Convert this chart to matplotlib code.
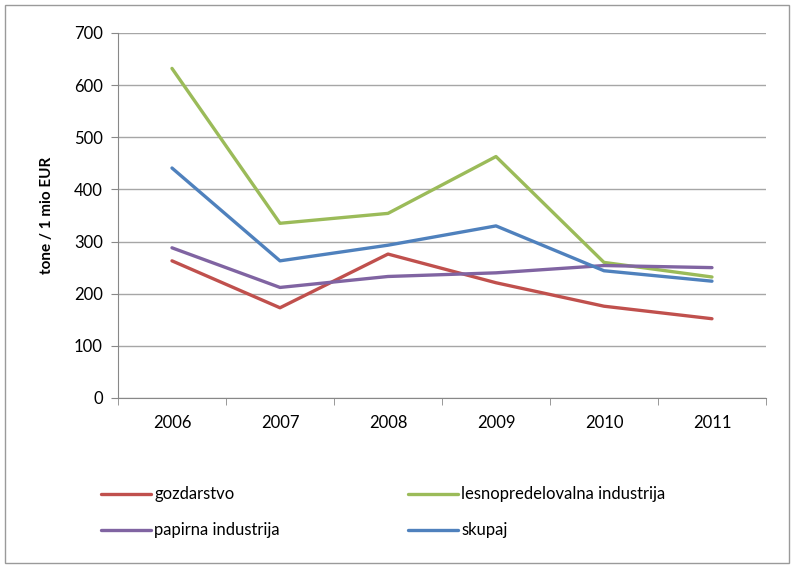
import matplotlib

matplotlib.use("Agg")
import matplotlib.pyplot as plt
from matplotlib.patches import Rectangle

plt.rcParams["font.family"] = ["Lato", "DejaVu Sans"]

years = ["2006", "2007", "2008", "2009", "2010", "2011"]
gozdarstvo = [263, 173, 276, 221, 176, 152]
lesnopredelovalna = [632, 335, 354, 463, 260, 232]
papirna = [288, 212, 233, 240, 254, 250]
skupaj = [441, 263, 293, 330, 244, 224]

series = [
    ("gozdarstvo", gozdarstvo, "#c0504d"),
    ("lesnopredelovalna industrija", lesnopredelovalna, "#9bbb59"),
    ("papirna industrija", papirna, "#8064a2"),
    ("skupaj", skupaj, "#4f81bd"),
]

fig = plt.figure(figsize=(7.94, 5.68), dpi=100)
ax = fig.add_axes([0.1486, 0.2993, 0.8161, 0.6427])

x = list(range(len(years)))
handles = []
for name, vals, col in series:
    (h,) = ax.plot(x, vals, color=col, lw=2.4, label=name, solid_capstyle="round")
    handles.append(h)

ax.set_xlim(-0.5, len(years) - 0.5)
ax.set_ylim(0, 700)
ax.set_yticks(range(0, 701, 100))
ax.set_xticks(x)
ax.set_xticklabels(years)
ax.set_xticks([i - 0.5 for i in range(len(years) + 1)], minor=True)
ax.tick_params(axis="x", which="major", length=0, pad=12, labelsize=12)
ax.tick_params(axis="x", which="minor", length=5, color="#888888")
ax.tick_params(axis="y", length=5, color="#888888", labelsize=12, pad=6)
ax.grid(axis="y", color="#a6a6a6", lw=1)
ax.set_axisbelow(True)
for s in ["top", "right"]:
    ax.spines[s].set_visible(False)
for s in ["left", "bottom"]:
    ax.spines[s].set_color("#888888")
ax.set_ylabel("tone / 1 mio EUR", fontsize=11, fontweight="bold", labelpad=14)

# legend fills column-wise, so reorder to get the row layout of the original
order = [0, 2, 1, 3]
fig.legend(
    handles=[handles[i] for i in order],
    loc="upper left",
    bbox_to_anchor=(0.108, 0.17),
    ncol=2,
    frameon=False,
    fontsize=12,
    handlelength=3,
    handletextpad=0.2,
    columnspacing=7.7,
    labelspacing=1.2,
)

fig.patches.append(
    Rectangle((0.006, 0.008), 0.988, 0.984, transform=fig.transFigure,
              fill=False, edgecolor="#9a9a9a", lw=1)
)

fig.savefig("out.png", dpi=100)
